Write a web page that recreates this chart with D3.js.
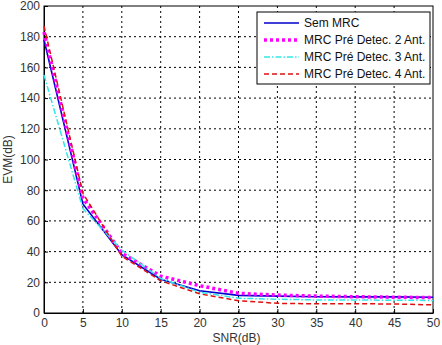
<!DOCTYPE html>
<html>
<head>
<meta charset="utf-8">
<script src="https://cdn.jsdelivr.net/npm/d3@7"></script>
<style>
  body { margin: 0; background: #fff; }
  text { font-family: Arial, "Liberation Sans", sans-serif; }
</style>
</head>
<body>
<div id="chart"></div>
<script>
// SNR values (x axis)
let snr = [0, 5, 10, 15, 20, 25, 30, 35, 40, 45, 50];

// EVM series
let semMrc = [178, 71, 38, 22, 14.5, 11.5, 11, 10.6, 10.5, 10.5, 10.3];
let mrc2 = [183, 75, 39, 24, 17.8, 12.8, 11.7, 11, 10.6, 10.3, 10];
let mrc3 = [155, 68, 41, 22.5, 13.5, 9.6, 9, 8.5, 8.5, 8.3, 8.2];
let mrc4 = [187, 78, 37, 21, 12.5, 8, 6.3, 6, 6, 5.9, 5.3];

let names = ["Sem MRC", "MRC Pré Detec. 2 Ant.", "MRC Pré Detec. 3 Ant.", "MRC Pré Detec. 4 Ant."];
let xTicks = [0, 5, 10, 15, 20, 25, 30, 35, 40, 45, 50];
let yTicks = [0, 20, 40, 60, 80, 100, 120, 140, 160, 180, 200];

let width = 442,
    height = 345;
let margin = {left: 44, top: 6, right: 9, bottom: 32};
let innerW = width - margin.left - margin.right,
    innerH = height - margin.top - margin.bottom;

let svg = d3.select("#chart")
    .append("svg")
    .attr("width", width)
    .attr("height", height);

let g = svg.append("g")
    .attr("transform", `translate(${margin.left}, ${margin.top})`);

let x = d3.scaleLinear().domain([0, 50]).range([0, innerW]);
let y = d3.scaleLinear().domain([0, 200]).range([innerH, 0]);

// dotted grid
g.append("g")
    .selectAll("line.gx")
    .data(xTicks.slice(1, -1))
    .enter().append("line")
    .attr("x1", d => x(d)).attr("x2", d => x(d))
    .attr("y1", 0).attr("y2", innerH)
    .attr("stroke", "#000").attr("stroke-width", 1)
    .attr("stroke-dasharray", "2,3");
g.append("g")
    .selectAll("line.gy")
    .data(yTicks.slice(1, -1))
    .enter().append("line")
    .attr("x1", 0).attr("x2", innerW)
    .attr("y1", d => y(d)).attr("y2", d => y(d))
    .attr("stroke", "#000").attr("stroke-width", 1)
    .attr("stroke-dasharray", "2,3");

// axes
let xAxis = g.append("g")
    .attr("transform", `translate(0, ${innerH})`)
    .call(d3.axisBottom(x).tickValues(xTicks).tickSize(-4).tickPadding(5).tickSizeOuter(0));
let yAxis = g.append("g")
    .call(d3.axisLeft(y).tickValues(yTicks).tickSize(-4).tickPadding(4).tickSizeOuter(0));
[xAxis, yAxis].forEach(a => {
    a.selectAll("text").style("font-size", "12px").attr("fill", "#333");
    a.selectAll("line, path").attr("stroke", "#000");
});

// box
g.append("rect")
    .attr("width", innerW).attr("height", innerH)
    .attr("fill", "none").attr("stroke", "#000").attr("stroke-width", 1);

let series = [
    {name: names[0], values: semMrc, color: "#0000cc", width: 1.6, dash: null},
    {name: names[1], values: mrc2, color: "#ff00ff", width: 3.5, dash: "3,3"},
    {name: names[2], values: mrc3, color: "#33e6e6", width: 1.5, dash: "6,2,1.5,2"},
    {name: names[3], values: mrc4, color: "#e01010", width: 1.5, dash: "5,3"}
];

let line = d3.line()
    .x((d, i) => x(snr[i]))
    .y(d => y(d));

series.forEach(s => {
    g.append("path")
        .datum(s.values)
        .attr("d", line)
        .attr("fill", "none")
        .attr("stroke", s.color)
        .attr("stroke-width", s.width)
        .attr("stroke-dasharray", s.dash);
});

// legend
let lg = svg.append("g").attr("transform", "translate(257, 12)");
lg.append("rect")
    .attr("width", 173).attr("height", 72)
    .attr("fill", "#fff").attr("stroke", "#000").attr("stroke-width", 1);
series.forEach((s, i) => {
    let ly = 11 + i * 17;
    lg.append("line")
        .attr("x1", 7).attr("x2", 42)
        .attr("y1", ly).attr("y2", ly)
        .attr("stroke", s.color)
        .attr("stroke-width", s.width)
        .attr("stroke-dasharray", s.dash);
    lg.append("text")
        .attr("x", 47).attr("y", ly + 4)
        .style("font-size", "12px")
        .attr("fill", "#111")
        .text(s.name);
});

// axis labels
svg.append("text")
    .attr("x", margin.left + innerW / 2 - 2)
    .attr("y", 342)
    .style("text-anchor", "middle")
    .style("font-size", "12px")
    .attr("fill", "#333")
    .text("SNR(dB)");

svg.append("text")
    .attr("transform", `translate(12, ${margin.top + innerH / 2}) rotate(-90)`)
    .style("text-anchor", "middle")
    .style("font-size", "12px")
    .attr("fill", "#333")
    .text("EVM(dB)");
</script>
</body>
</html>
